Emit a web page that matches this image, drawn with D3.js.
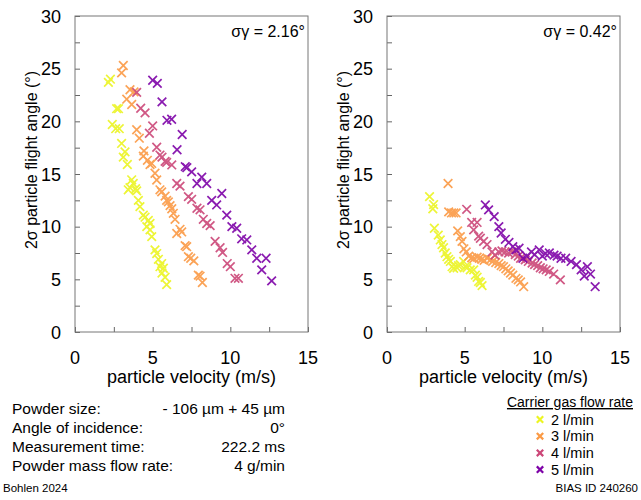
<!DOCTYPE html>
<html>
<head>
<meta charset="utf-8">
<script src="https://cdn.jsdelivr.net/npm/d3@7"></script>
<style>
  body { margin: 0; background: #fff; font-family: "Liberation Sans", Arial, sans-serif; }
  svg text { fill: #000; }
</style>
</head>
<body>
<div id="chart"></div>
<script>
// flow rates (legend) and colours
const FLOW_LABELS = ["2 l/min", "3 l/min", "4 l/min", "5 l/min"];
const FLOW_COLORS = ["#ecf522", "#fb9a45", "#cc4778", "#7e03a8"];

// axis ticks
const X_TICKS = [0, 2.5, 5, 7.5, 10, 12.5, 15];
const Y_TICKS = [0, 2.5, 5, 7.5, 10, 12.5, 15, 17.5, 20, 22.5, 25, 27.5, 30];

// left panel: [velocity m/s, 2σ angle °]
const left2 = [[2.15,23.7],[2.28,24.0],[2.68,21.2],[2.8,21.2],[2.4,19.7],[2.62,19.3],[2.85,19.3],[3.0,17.9],[3.22,17.1],[3.11,16.6],[3.37,15.9],[3.65,14.45],[3.75,14.1],[3.54,13.7],[3.9,13.6],[3.43,13.5],[3.97,13.4],[4.08,12.5],[4.18,11.9],[4.4,11.1],[4.51,10.9],[4.72,10.6],[4.83,10.3],[4.62,10.0],[4.83,9.7],[4.94,9.05],[5.15,7.8],[5.26,7.45],[5.37,6.9],[5.58,6.5],[5.47,6.2],[5.69,6.05],[5.6,5.6],[5.8,5.2],[5.9,4.5]];
const left3 = [[3.11,25.3],[3.0,24.6],[3.54,23.0],[3.8,22.8],[3.33,22.1],[3.65,21.6],[3.97,19.2],[4.14,18.4],[4.44,17.2],[4.4,16.7],[4.66,16.3],[4.83,15.9],[4.94,16.0],[5.15,15.07],[5.26,14.43],[5.47,13.5],[5.58,13.3],[5.8,12.9],[5.9,12.5],[6.01,12.35],[6.12,12.0],[6.23,11.7],[6.33,11.27],[6.44,10.7],[6.76,9.75],[6.87,9.5],[6.55,9.35],[7.09,8.2],[7.19,8.1],[7.3,7.15],[7.45,7.0],[7.65,6.75],[7.94,5.4],[8.05,5.3],[8.2,4.7]];
const left4 = [[3.97,22.75],[4.23,21.24],[4.51,20.8],[5.0,19.56],[4.79,18.87],[5.26,17.54],[5.47,16.8],[5.6,16.6],[5.8,16.2],[5.9,16.1],[6.23,15.86],[6.55,14.1],[6.76,13.85],[7.3,12.85],[7.51,12.6],[7.85,11.75],[8.05,11.6],[8.26,10.7],[8.48,10.3],[8.7,10.1],[9.02,8.6],[9.34,8.0],[9.5,7.55],[9.8,6.5],[10.0,6.2],[10.3,5.1],[10.52,5.1]];
const left5 = [[5.0,23.9],[5.3,23.6],[5.6,21.85],[5.92,20.1],[6.22,20.2],[6.9,18.75],[6.57,17.3],[7.1,15.7],[7.2,15.6],[7.51,15.2],[8.16,14.7],[7.85,14.1],[8.48,14.1],[9.45,13.15],[8.8,12.5],[9.12,12.06],[9.77,11.1],[10.1,10.0],[10.41,9.85],[10.73,8.85],[11.06,8.74],[11.38,7.8],[11.7,7.0],[12.3,7.0],[12.02,5.9],[12.66,4.85]];

// right panel
const right2 = [[2.74,12.85],[3.0,12.1],[2.95,11.7],[3.05,9.85],[3.3,9.2],[3.43,8.74],[3.54,8.3],[3.64,8.0],[3.75,7.5],[3.86,7.15],[3.97,6.9],[4.08,6.7],[4.19,6.2],[4.29,6.05],[4.51,6.1],[4.6,6.3],[4.72,6.4],[4.93,6.7],[5.05,6.2],[5.15,6.1],[5.36,5.9],[5.58,5.9],[5.69,5.4],[5.8,5.2],[5.9,4.8],[6.01,4.7],[6.12,4.4]];
const right3 = [[3.93,14.1],[3.97,11.4],[4.15,11.3],[4.3,11.3],[4.45,11.3],[4.55,9.6],[4.72,9.05],[4.83,8.6],[4.95,7.9],[5.1,7.6],[5.26,7.2],[5.45,7.05],[5.6,7.0],[5.8,7.1],[5.95,7.0],[6.1,6.9],[6.25,6.8],[6.45,7.0],[6.65,6.85],[6.8,6.7],[7.0,6.6],[7.2,6.5],[7.35,6.3],[7.5,6.2],[7.65,6.0],[7.8,5.8],[7.95,5.6],[8.1,5.4],[8.3,5.1],[8.45,4.95],[8.6,4.75],[8.8,4.3]];
const right4 = [[5.13,11.65],[5.45,10.4],[5.8,10.4],[5.58,9.7],[5.9,9.1],[6.01,8.9],[6.22,8.6],[6.44,8.3],[6.76,7.6],[6.95,7.3],[7.2,7.6],[7.4,7.7],[7.6,7.6],[7.83,7.5],[8.05,7.6],[8.26,7.35],[8.45,7.2],[8.6,7.0],[8.9,6.85],[9.1,6.7],[9.34,6.55],[9.5,6.4],[9.7,6.3],[9.87,6.1],[10.05,6.0],[10.25,5.9],[10.45,5.75],[10.73,5.5],[11.16,4.95]];
const right5 = [[6.33,12.06],[6.54,11.59],[6.9,10.95],[7.2,10.0],[7.35,9.4],[7.62,8.8],[7.85,8.5],[8.1,8.1],[8.3,7.8],[8.5,7.95],[8.75,7.0],[9.0,7.2],[9.3,7.6],[9.5,7.35],[9.8,7.8],[10.0,7.2],[10.2,7.45],[10.45,7.5],[10.75,7.3],[10.95,7.2],[11.2,7.0],[11.5,7.0],[11.85,6.7],[12.2,6.4],[12.5,5.9],[12.7,5.3],[12.9,6.2],[13.1,5.5],[13.4,4.3]];

const SIGMA_TEXT = ["σγ = 2.16°", "σγ = 0.42°"];

const INFO_LABELS = ["Powder size:", "Angle of incidence:", "Measurement time:", "Powder mass flow rate:"];
const INFO_VALUES = ["- 106 µm + 45 µm", "0°", "222.2 ms", "4 g/min"];

const width = 641, height = 500;
const svg = d3.select("#chart").append("svg")
  .attr("width", width)
  .attr("height", height)
  .style("font-family", "'Liberation Sans', Arial, sans-serif");

const panels = [
  { left: 75, series: [left2, left3, left4, left5], sigma: SIGMA_TEXT[0] },
  { left: 387, series: [right2, right3, right4, right5], sigma: SIGMA_TEXT[1] }
];
const plotTop = 16, plotBottom = 332, plotW = 233;

function cross(g, cx, cy, r, color, sw) {
  g.append("path")
    .attr("d", `M${cx - r},${cy - r}L${cx + r},${cy + r}M${cx - r},${cy + r}L${cx + r},${cy - r}`)
    .attr("stroke", color)
    .attr("stroke-width", sw)
    .attr("fill", "none");
}

panels.forEach(p => {
  const x = d3.scaleLinear().domain([0, 15]).range([p.left, p.left + plotW]);
  const y = d3.scaleLinear().domain([0, 30]).range([plotBottom, plotTop]);

  // ticks (inward)
  const xAxis = d3.axisTop(x).tickValues(X_TICKS).tickSize(5).tickFormat("");
  const yAxis = d3.axisRight(y).tickValues(Y_TICKS).tickSize(5).tickFormat("");
  const gx = svg.append("g").attr("transform", `translate(0,${plotBottom})`).call(xAxis);
  const gy = svg.append("g").attr("transform", `translate(${p.left},0)`).call(yAxis);
  [gx, gy].forEach(g => {
    g.select(".domain").remove();
    g.selectAll("line").attr("stroke", "#666");
  });

  // tick labels
  svg.append("g").selectAll("text")
    .data([0, 5, 10, 15]).join("text")
    .attr("x", d => x(d)).attr("y", 364)
    .attr("text-anchor", "middle")
    .attr("font-size", 18)
    .text(d => d);
  svg.append("g").selectAll("text")
    .data([0, 5, 10, 15, 20, 25, 30]).join("text")
    .attr("x", p.left - 14).attr("y", d => y(d) + 6.5)
    .attr("text-anchor", "end")
    .attr("font-size", 18)
    .text(d => d);

  // frame
  svg.append("rect")
    .attr("x", p.left).attr("y", plotTop)
    .attr("width", plotW).attr("height", plotBottom - plotTop)
    .attr("fill", "none").attr("stroke", "#777").attr("stroke-width", 1);

  // axis titles
  svg.append("text")
    .attr("x", p.left + plotW / 2).attr("y", 383)
    .attr("text-anchor", "middle").attr("font-size", 18)
    .text("particle velocity (m/s)");
  svg.append("text")
    .attr("transform", `translate(${p.left - 38},160) rotate(-90)`)
    .attr("text-anchor", "middle").attr("font-size", 16)
    .text("2σ particle flight angle (°)");

  svg.append("text")
    .attr("x", p.left + plotW - 3).attr("y", 37)
    .attr("text-anchor", "end").attr("font-size", 16)
    .text(p.sigma);

  // points
  p.series.forEach((s, i) => {
    const g = svg.append("g").attr("opacity", 0.9);
    s.forEach(d => cross(g, x(d[0]), y(d[1]), 4.3, FLOW_COLORS[i], 1.7));
  });
});

// info block
INFO_LABELS.forEach((t, i) => {
  svg.append("text").attr("x", 12).attr("y", 413.5 + i * 19.2)
    .attr("font-size", 15.5).text(t);
  svg.append("text").attr("x", 285).attr("y", 413.5 + i * 19.2)
    .attr("text-anchor", "end").attr("font-size", 15.5).text(INFO_VALUES[i]);
});

// legend
svg.append("text")
  .attr("x", 633).attr("y", 407)
  .attr("text-anchor", "end").attr("font-size", 14)
  .attr("text-decoration", "underline")
  .text("Carrier gas flow rate");
FLOW_LABELS.forEach((t, i) => {
  const cy = 419.5 + i * 16.7;
  cross(svg, 540, cy, 3.2, FLOW_COLORS[i], 2.2);
  svg.append("text").attr("x", 551).attr("y", cy + 5)
    .attr("font-size", 14.5).text(t);
});

// footer
svg.append("text").attr("x", 3).attr("y", 492).attr("font-size", 11.5).text("Bohlen 2024");
svg.append("text").attr("x", 638).attr("y", 492).attr("text-anchor", "end").attr("font-size", 11.5).text("BIAS ID 240260");
</script>
</body>
</html>
